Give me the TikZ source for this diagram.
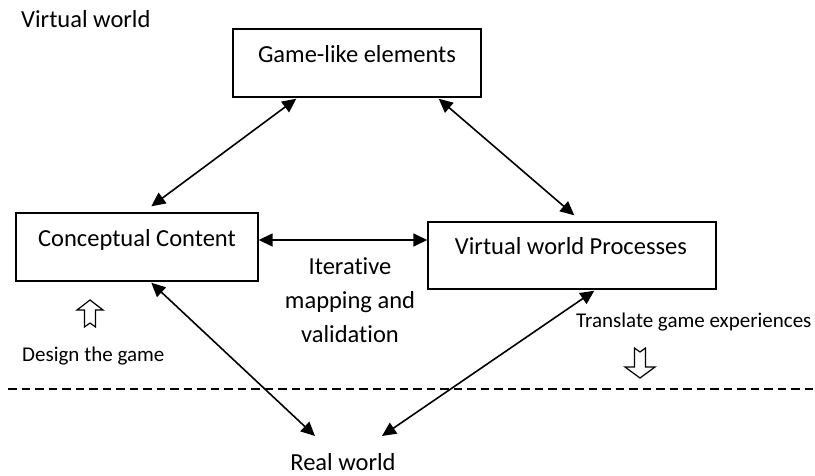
\documentclass[tikz,border=0pt]{standalone}
\usepackage{fontspec}
\setmainfont[Ligatures=NoCommon]{Carlito}
\usetikzlibrary{arrows.meta,calc}
\begin{document}
\begin{tikzpicture}[x=1pt,y=-1pt,
  box/.style={draw, line width=1.4pt, rectangle, inner sep=0pt},
  big/.style={font=\fontsize{24.5}{34}\selectfont, inner sep=0pt},
  small/.style={font=\fontsize{21}{26}\selectfont, inner sep=0pt},
  link/.style={line width=1.6pt,
    {Triangle[length=14pt,width=13pt]}-{Triangle[length=14pt,width=13pt]}},
  hollow/.style={line width=1.2pt, fill=white, line join=miter}]
\useasboundingbox (0,0) rectangle (815,475);

% region label
\node[big, anchor=base west] (vw) at (21,27) {Virtual world};

% boxes
\node[box, minimum width=248pt, minimum height=68pt] (game) at (357,63) {};
\node[box, minimum width=242pt, minimum height=68pt] (concept) at (137,247) {};
\node[box, minimum width=288pt, minimum height=67pt] (vwp) at (572,255.5) {};

\node[big, anchor=base] (gametext) at ($(game.north)+(0,34)$) {Game-like elements};
\node[big, anchor=base] (concepttext) at ($(concept.north)+(0,34)$) {Conceptual Content};
\node[big, anchor=base] (vwptext) at ($(vwp.north)+(-1,33)$) {Virtual world Processes};

% free labels
\node[big, align=center, anchor=base] (iter) at (350,342) {Iterative\\mapping and\\validation};
\node[small, anchor=base west] (design) at (22,361) {Design the game};
\node[small, anchor=base west] (translate) at (576,327) {Translate game experiences};
\node[big, anchor=base] (real) at (343,470) {Real world};
\coordinate (realL) at (315,436);
\coordinate (realR) at (382,436);

% two-way links
\draw[link] ($(game.south west)+(64,1)$) -- ($(concept.north west)+(136,-6)$);
\draw[link] ($(game.south east)+(-43,1)$) -- ($(vwp.north west)+(147,-6)$);
\draw[link] ($(concept.east)+(0,-7)$) -- ($(vwp.west)+(0,-15.5)$);
\draw[link] ($(concept.south west)+(136,1)$) -- (realL);
\draw[link] ($(vwp.south west)+(167,1)$) -- (realR);

% border between the virtual and the real world
\draw[line width=1.7pt, dash pattern=on 8.5pt off 5pt] (8,389) -- (815,389);

% outlined block arrows
\draw[hollow] (90,300) -- (103,310) -- (95.5,310) -- (95.5,327) -- (90,323)
  -- (84.5,327) -- (84.5,310) -- (77,310) -- cycle;
\draw[hollow] (640,378) -- (655,367) -- (645.5,367) -- (645.5,348) -- (640,352)
  -- (634.5,348) -- (634.5,367) -- (625,367) -- cycle;
\end{tikzpicture}
\end{document}
